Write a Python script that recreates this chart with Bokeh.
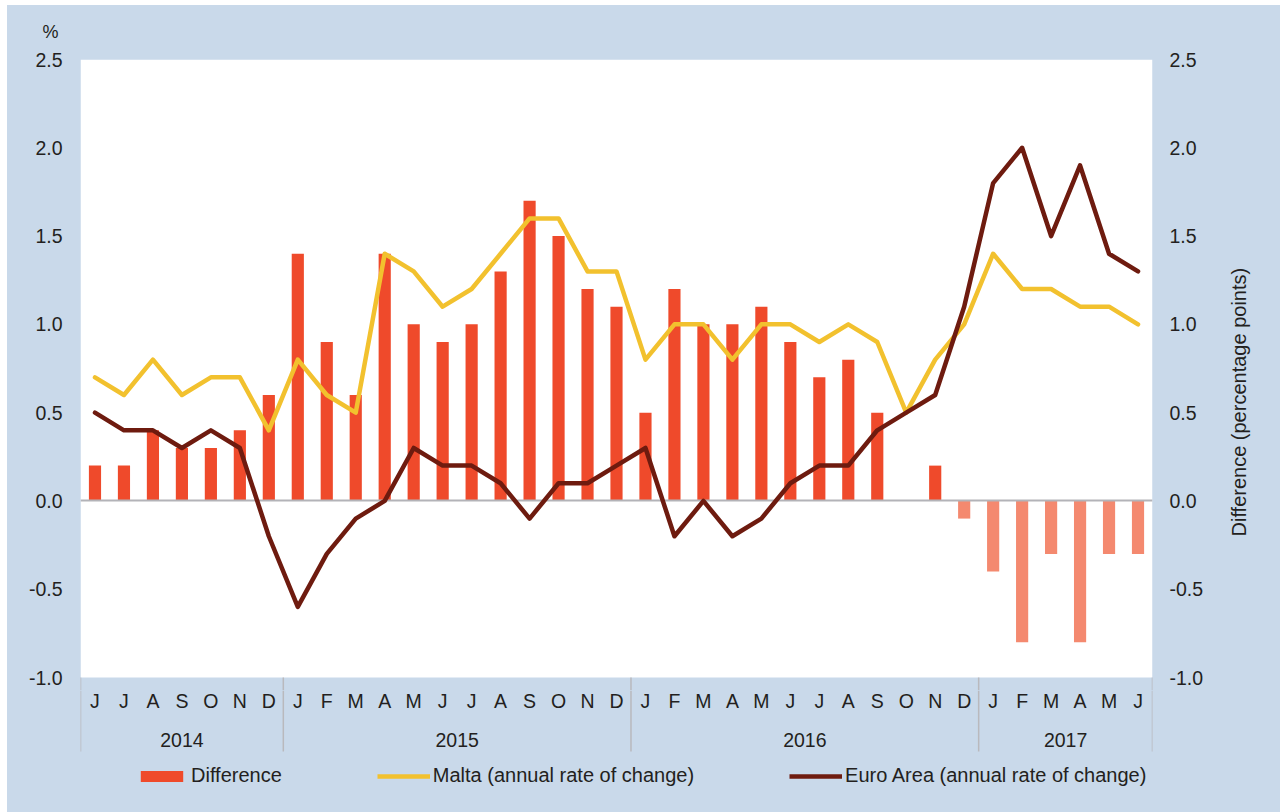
from math import pi
from bokeh.plotting import figure
from bokeh.layouts import column, row
from bokeh.models import (Range1d, LinearAxis, FixedTicker, PrintfTickFormatter,
                          Legend, LegendItem, ColumnDataSource)
from bokeh.core.properties import value
from bokeh.embed import file_html
from bokeh.resources import INLINE

# ---------------- data ----------------
YEARS = ["2014", "2015", "2016", "2017"]
MONTHS_BY_YEAR = [
    ["J", "J", "A", "S", "O", "N", "D"],
    ["J", "F", "M", "A", "M", "J", "J", "A", "S", "O", "N", "D"],
    ["J", "F", "M", "A", "M", "J", "J", "A", "S", "O", "N", "D"],
    ["J", "F", "M", "A", "M", "J"],
]
DIFFERENCE = [0.2, 0.2, 0.4, 0.3, 0.3, 0.4, 0.6,
              1.4, 0.9, 0.6, 1.4, 1.0, 0.9, 1.0, 1.3, 1.7, 1.5, 1.2, 1.1,
              0.5, 1.2, 1.0, 1.0, 1.1, 0.9, 0.7, 0.8, 0.5, 0.0, 0.2, -0.1,
              -0.4, -0.8, -0.3, -0.8, -0.3, -0.3]
MALTA = [0.7, 0.6, 0.8, 0.6, 0.7, 0.7, 0.4,
         0.8, 0.6, 0.5, 1.4, 1.3, 1.1, 1.2, 1.4, 1.6, 1.6, 1.3, 1.3,
         0.8, 1.0, 1.0, 0.8, 1.0, 1.0, 0.9, 1.0, 0.9, 0.5, 0.8, 1.0,
         1.4, 1.2, 1.2, 1.1, 1.1, 1.0]
EURO_AREA = [0.5, 0.4, 0.4, 0.3, 0.4, 0.3, -0.2,
             -0.6, -0.3, -0.1, 0.0, 0.3, 0.2, 0.2, 0.1, -0.1, 0.1, 0.1, 0.2,
             0.3, -0.2, 0.0, -0.2, -0.1, 0.1, 0.2, 0.2, 0.4, 0.5, 0.6, 1.1,
             1.8, 2.0, 1.5, 1.9, 1.4, 1.3]
Y_TICKS = [-1.0, -0.5, 0.0, 0.5, 1.0, 1.5, 2.0, 2.5]
SERIES_NAMES = ["Difference", "Malta (annual rate of change)",
                "Euro Area (annual rate of change)"]
Y_UNIT = "%"
Y2_TITLE = "Difference (percentage points)"

# ---------------- style ----------------
BG = "#c9d9ea"
TEXT = "#231f20"
POS = "#ef4a2b"
NEG = "#f4896f"
MALTA_C = "#f2c12e"
EURO_C = "#6e1b0f"
SEP_C = "#b9b9bd"
FONT = "Liberation Sans"
BLUE_BOX = {"background-color": BG}
NAN = float("nan")

# ---------------- layout (page pixels) ----------------
PAGE_W, PAGE_H = 1280, 812
OX, OY = 7, 5                 # blue panel origin on the page
FRAME_L, FRAME_R, FRAME_T, PLOT_B = 80, 1152, 59, 677
SPLIT = 690                   # boundary between chart and category-label strip
SIDE = 1215                   # boundary between chart and right-title strip
W = PAGE_W - OX

months = [m for ms in MONTHS_BY_YEAR for m in ms]
n = len(months)
PXY = (PLOT_B - FRAME_T) / (Y_TICKS[-1] - Y_TICKS[0])
y_lo = Y_TICKS[0] - (SPLIT - PLOT_B) / PXY

x_range = Range1d(0, n)


def blank(fig):
    fig.grid.visible = False
    fig.styles = BLUE_BOX


p = figure(width=SIDE - OX, height=SPLIT - OY, x_range=x_range,
           y_range=Range1d(y_lo, Y_TICKS[-1]),
           output_backend="svg", toolbar_location=None, x_axis_location=None,
           title=Y_UNIT,
           min_border_left=FRAME_L - OX, min_border_right=SIDE - FRAME_R,
           min_border_top=FRAME_T - OY, min_border_bottom=0,
           background_fill_color=BG, border_fill_color=BG, outline_line_color=None)
blank(p)
p.title.align = "left"
p.title.vertical_align = "top"
p.title.offset = -38
p.title.text_font = FONT
p.title.text_font_size = "18px"
p.title.text_font_style = "normal"
p.title.text_color = TEXT
p.title.standoff = 32


def style_axis(ax, standoff):
    ax.ticker = FixedTicker(ticks=Y_TICKS)
    ax.formatter = PrintfTickFormatter(format="%.1f")
    ax.axis_line_color = None
    ax.major_tick_line_color = None
    ax.minor_tick_line_color = None
    ax.major_tick_out = 0
    ax.major_tick_in = 0
    ax.minor_tick_out = 0
    ax.minor_tick_in = 0
    ax.major_label_standoff = standoff
    ax.major_label_text_font = FONT
    ax.major_label_text_font_size = "19.5px"
    ax.major_label_text_color = TEXT


style_axis(p.yaxis[0], 18)
right = LinearAxis()
style_axis(right, 17)
p.add_layout(right, "right")

# white plot area
p.quad(left=0, right=n, bottom=Y_TICKS[0], top=Y_TICKS[-1], fill_color="white", line_color=None)

xs = [i + 0.5 for i in range(n)]
src = ColumnDataSource(dict(x=xs, diff=DIFFERENCE, malta=MALTA, euro=EURO_AREA,
                            color=[POS if v >= 0 else NEG for v in DIFFERENCE]))

p.vbar(x="x", top="diff", bottom=0, width=0.42, fill_color="color",
       line_color=None, source=src)
p.hspan(y=[0], line_color="#b3b3b8", line_width=2)
p.line("x", "malta", source=src, line_color=MALTA_C, line_width=4.5,
       line_join="round", line_cap="round")
p.line("x", "euro", source=src, line_color=EURO_C, line_width=4.5,
       line_join="round", line_cap="round")

bounds = [0]
for ms in MONTHS_BY_YEAR:
    bounds.append(bounds[-1] + len(ms))
p.segment(x0=bounds, x1=bounds, y0=[Y_TICKS[0]] * len(bounds), y1=[y_lo] * len(bounds),
          line_color=SEP_C, line_width=1.5)

# ---------------- right-axis title strip ----------------
r = figure(width=PAGE_W - SIDE, height=SPLIT - OY, x_range=Range1d(SIDE, PAGE_W),
           y_range=Range1d(SPLIT, OY), output_backend="svg", toolbar_location=None,
           x_axis_location=None, y_axis_location=None,
           min_border_left=0, min_border_right=0, min_border_top=0, min_border_bottom=0,
           background_fill_color=BG, border_fill_color=BG, outline_line_color=None)
blank(r)
r.text(x=[1238.5], y=[377], text=[Y2_TITLE], angle=pi / 2, text_align="center",
       text_baseline="middle", text_font=value(FONT), text_font_size="20px", text_color=TEXT)

# ---------------- category strip + legend ----------------
q = figure(width=W, height=PAGE_H - SPLIT, x_range=x_range, y_range=Range1d(PAGE_H, SPLIT),
           output_backend="svg", toolbar_location=None, x_axis_location=None,
           y_axis_location=None,
           min_border_left=FRAME_L - OX, min_border_right=W - (FRAME_R - OX),
           min_border_top=0, min_border_bottom=0,
           background_fill_color=BG, border_fill_color=BG, outline_line_color=None)
blank(q)

q.text(x=xs, y=[700] * n, text=months, text_align="center", text_baseline="middle",
       text_font=value(FONT), text_font_size="19.5px", text_color=TEXT)
year_x = [(a + b) / 2 for a, b in zip(bounds[:-1], bounds[1:])]
q.text(x=year_x, y=[739.5] * len(YEARS), text=YEARS, text_align="center",
       text_baseline="middle", text_font=value(FONT), text_font_size="19.5px", text_color=TEXT)
q.segment(x0=bounds, x1=bounds, y0=[SPLIT] * len(bounds), y1=[751] * len(bounds),
          line_color=SEP_C, line_width=1.5)

# legend swatches (same styles as the chart's series; no visible marks of their own)
k_bar = q.vbar(x=[NAN], top=[NAN], bottom=0, width=0.42, fill_color=POS, line_color=None)
k_malta = q.line(x=[NAN, NAN], y=[NAN, NAN], line_color=MALTA_C, line_width=4.5)
k_euro = q.line(x=[NAN, NAN], y=[NAN, NAN], line_color=EURO_C, line_width=4.5)

legend = Legend(items=[LegendItem(label=SERIES_NAMES[0], renderers=[k_bar], index=0),
                       LegendItem(label=SERIES_NAMES[1], renderers=[k_malta]),
                       LegendItem(label=SERIES_NAMES[2], renderers=[k_euro])],
                orientation="horizontal", location=(55, 25), glyph_width=53, glyph_height=14,
                label_standoff=3, spacing=95, padding=0, margin=0, border_line_color=None,
                background_fill_alpha=0, label_text_font=FONT, label_text_font_size="20px",
                label_text_color=TEXT, label_height=20)
q.add_layout(legend)

top = row(p, r, spacing=0)
top.styles = BLUE_BOX
layout = column(top, q, spacing=0)
layout.styles = BLUE_BOX
layout.margin = (OY, 0, 0, OX)

open("out.html", "w").write(file_html(layout, INLINE))
